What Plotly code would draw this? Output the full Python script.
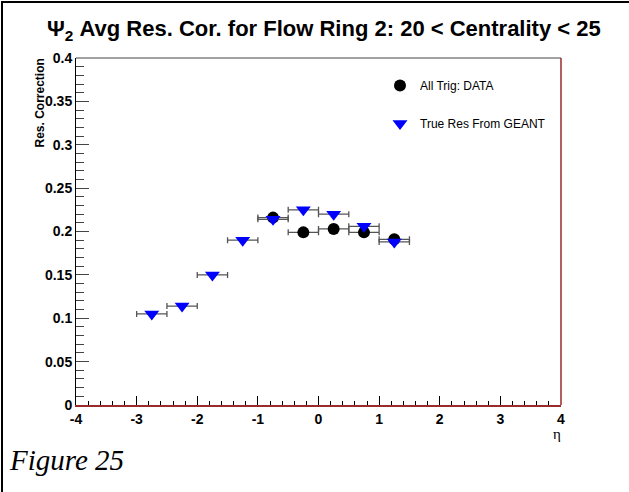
import plotly.graph_objects as go

# Data
eta_data = [-0.75, -0.25, 0.25, 0.75, 1.25]
res_data = [0.216, 0.199, 0.203, 0.199, 0.191]

eta_geant = [-2.75, -2.25, -1.75, -1.25, -0.75, -0.25, 0.25, 0.75, 1.25]
res_geant = [0.105, 0.114, 0.150, 0.190, 0.214, 0.225, 0.220, 0.206, 0.188]

eta_halfwidth = 0.25
x_ticks = [-4, -3, -2, -1, 0, 1, 2, 3, 4]
y_ticks = [0, 0.05, 0.1, 0.15, 0.2, 0.25, 0.3, 0.35, 0.4]
y_ticklabels = ["0", "0.05", "0.1", "0.15", "0.2", "0.25", "0.3", "0.35", "0.4"]

W, H = 629, 492
L, R, T, B = 76, 68, 58, 87
pw, ph = W - L - R, H - T - B


def px(xp):
    return (xp - L) / pw


def py(yp):
    return (H - B - yp) / ph


err_style = dict(type="constant", value=eta_halfwidth, color="#555555", thickness=1.3, width=3)

fig = go.Figure()
fig.add_trace(go.Scatter(
    x=eta_data, y=res_data, mode="markers", name="All Trig: DATA",
    marker=dict(symbol="circle", size=12, color="black"),
    error_x=err_style, legendgroup="a",
))
fig.add_trace(go.Scatter(
    x=eta_geant, y=res_geant, mode="markers", name="True Res From GEANT",
    marker=dict(symbol="triangle-down", size=13, color="#0000ff"),
    error_x=err_style, legendgroup="b",
))

tickfont = dict(family="Liberation Sans", size=14, color="black", weight="bold")

fig.update_layout(
    width=W, height=H,
    margin=dict(l=L, r=R, t=T, b=B),
    paper_bgcolor="white", plot_bgcolor="white",
    showlegend=True,
    legend=dict(x=px(380), y=py(71), xanchor="left", yanchor="top",
                bgcolor="rgba(0,0,0,0)", font=dict(family="Liberation Sans", size=12, color="black"),
                tracegroupgap=19, traceorder="grouped"),
    xaxis=dict(range=[-4, 4], tickvals=x_ticks, ticktext=[str(v) for v in x_ticks],
               ticks="inside", ticklen=9, tickcolor="black", tickwidth=1,
               minor=dict(dtick=0.2, ticks="inside", ticklen=4, tickcolor="black"),
               showgrid=False, zeroline=False, showline=True, linecolor="#9b2a2a", linewidth=1.5,
               tickfont=tickfont),
    yaxis=dict(range=[0, 0.4], tickvals=y_ticks, ticktext=y_ticklabels,
               ticks="inside", ticklen=13, tickcolor="#444", tickwidth=1,
               minor=dict(dtick=0.01, ticks="inside", ticklen=8, tickcolor="#444"),
               showgrid=False, zeroline=False, showline=True, linecolor="black", linewidth=1,
               tickfont=tickfont),
)

fig.add_shape(type="line", xref="paper", yref="paper", x0=0, x1=1, y0=1, y1=1,
              line=dict(color="#444444", width=1))
fig.add_shape(type="line", xref="paper", yref="paper", x0=1, x1=1, y0=0, y1=1,
              line=dict(color="#9b2a2a", width=1.5))
# outer frame (top and left)
fig.add_shape(type="line", xref="paper", yref="paper", x0=px(1), x1=px(W), y0=py(2), y1=py(2),
              line=dict(color="black", width=2))
fig.add_shape(type="line", xref="paper", yref="paper", x0=px(2), x1=px(2), y0=py(1), y1=py(H),
              line=dict(color="black", width=2))

fig.add_annotation(text="<b>Ψ<sub>2</sub> Avg Res. Cor. for Flow Ring 2: 20 &lt; Centrality &lt; 25</b>",
                   xref="paper", yref="paper", x=px(324), y=py(30), xanchor="center", yanchor="middle",
                   showarrow=False, font=dict(family="Liberation Sans", size=22, color="black"))
fig.add_annotation(text="<b>Res. Correction</b>", textangle=-90,
                   xref="paper", yref="paper", x=px(40), y=py(57), xanchor="center", yanchor="top",
                   showarrow=False, font=dict(family="Liberation Sans", size=12, color="black"))
fig.add_annotation(text="η", xref="paper", yref="paper", x=px(557), y=py(434),
                   xanchor="center", yanchor="middle", showarrow=False,
                   font=dict(family="Liberation Serif", size=15, color="black"))
fig.add_annotation(text="<i>Figure 25</i>", xref="paper", yref="paper", x=px(7), y=py(460),
                   xanchor="left", yanchor="middle", showarrow=False,
                   font=dict(family="Liberation Serif", size=29, color="black"))

fig.write_html("out.html", config={"displayModeBar": False},
               post_script="document.body.style.margin='0px';document.body.style.padding='0px';")
